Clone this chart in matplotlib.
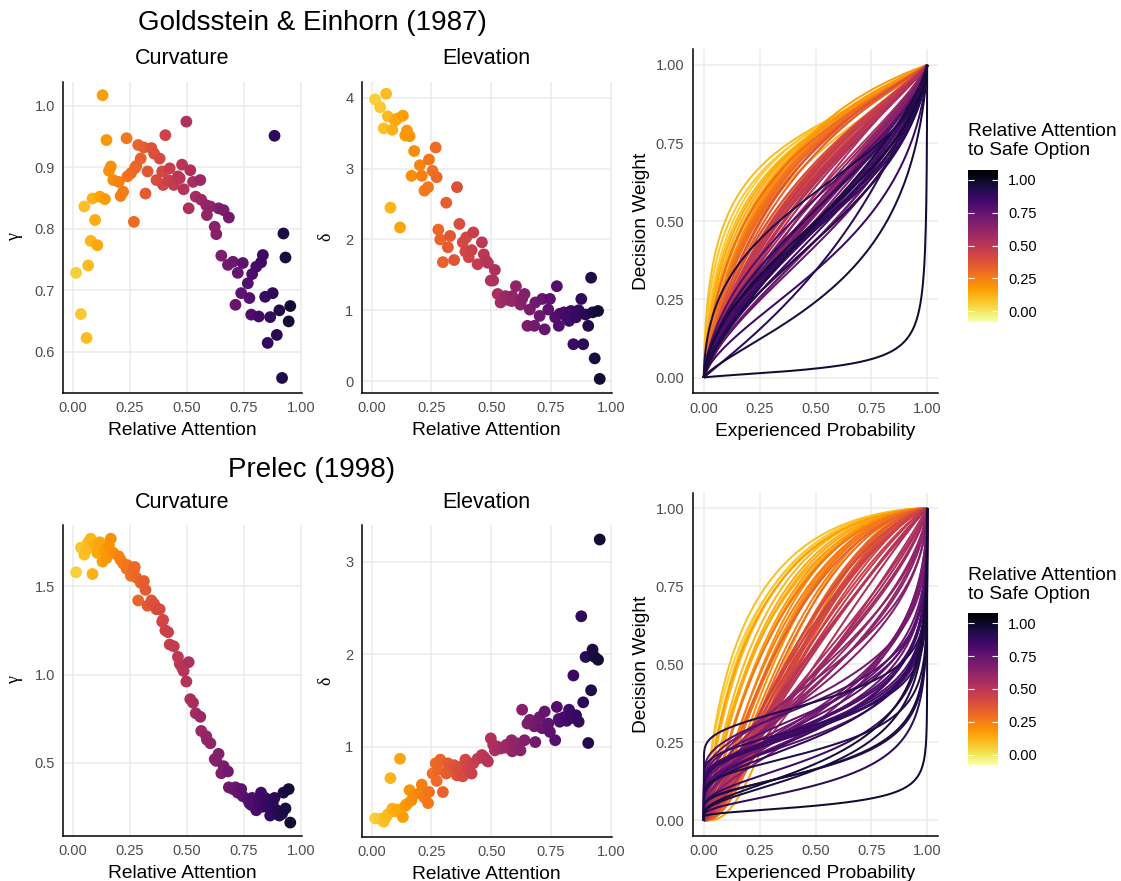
import numpy as np
import matplotlib
matplotlib.use("Agg")
import matplotlib.pyplot as plt
from matplotlib import colors, colorbar

plt.rcParams["font.family"] = ["Liberation Sans", "DejaVu Sans"]

# relative attention to the safe option (one value per participant)
attention = [0.015, 0.036, 0.051, 0.061, 0.068, 0.079, 0.087, 0.098, 0.108, 0.119,
             0.131, 0.141, 0.148, 0.159, 0.167, 0.178, 0.202, 0.210, 0.221, 0.236,
             0.240, 0.255, 0.268, 0.272, 0.279, 0.287, 0.298, 0.312, 0.319, 0.328,
             0.345, 0.357, 0.367, 0.381, 0.392, 0.396, 0.406, 0.418, 0.425, 0.443,
             0.461, 0.469, 0.479, 0.486, 0.498, 0.508, 0.515, 0.527, 0.539, 0.559,
             0.563, 0.585, 0.588, 0.603, 0.622, 0.629, 0.639, 0.651, 0.661, 0.680,
             0.684, 0.702, 0.713, 0.723, 0.738, 0.745, 0.767, 0.774, 0.782, 0.786,
             0.804, 0.815, 0.825, 0.833, 0.843, 0.854, 0.865, 0.876, 0.884, 0.894,
             0.905, 0.917, 0.923, 0.932, 0.946, 0.953]

# Goldstein & Einhorn (1987) parameters
ge_gamma = [0.728, 0.661, 0.836, 0.622, 0.740, 0.780, 0.849, 0.814, 0.773, 0.852,
            1.017, 0.848, 0.944, 0.894, 0.901, 0.879, 0.876, 0.853, 0.860, 0.947,
            0.885, 0.890, 0.811, 0.898, 0.902, 0.936, 0.914, 0.932, 0.857, 0.893,
            0.931, 0.922, 0.879, 0.914, 0.893, 0.871, 0.952, 0.879, 0.898, 0.871,
            0.885, 0.882, 0.904, 0.864, 0.974, 0.833, 0.895, 0.876, 0.852, 0.879,
            0.847, 0.838, 0.822, 0.836, 0.803, 0.791, 0.833, 0.756, 0.830, 0.741,
            0.818, 0.746, 0.676, 0.728, 0.695, 0.744, 0.711, 0.687, 0.660, 0.726,
            0.738, 0.657, 0.745, 0.757, 0.689, 0.614, 0.656, 0.695, 0.951, 0.627,
            0.667, 0.557, 0.792, 0.753, 0.649, 0.674]
ge_delta = [3.98, 3.87, 3.57, 4.06, 3.74, 2.45, 3.55, 3.68, 3.71, 2.17,
            3.75, 3.47, 3.54, 3.46, 2.90, 3.25, 3.05, 2.90, 2.69, 2.74,
            3.13, 2.97, 3.30, 2.88, 2.14, 2.00, 1.68, 2.52, 1.89, 2.05,
            1.71, 2.74, 2.22, 1.96, 1.83, 2.03, 1.75, 1.85, 2.10, 1.65,
            1.96, 1.79, 1.70, 1.67, 1.42, 1.42, 1.57, 1.23, 1.11, 1.20,
            1.15, 1.13, 1.20, 1.34, 1.08, 1.16, 1.23, 0.78, 1.01, 0.78,
            1.11, 0.92, 1.16, 0.73, 1.01, 1.16, 0.90, 1.34, 0.78, 0.95,
            0.97, 0.90, 0.85, 0.99, 0.52, 0.90, 1.00, 1.16, 0.52, 0.94,
            0.78, 1.46, 0.97, 0.32, 0.99, 0.03]

# Prelec (1998) parameters
pr_gamma = [1.58, 1.72, 1.68, 1.71, 1.75, 1.77, 1.57, 1.73, 1.69, 1.75,
            1.64, 1.70, 1.66, 1.73, 1.77, 1.69, 1.67, 1.65, 1.63, 1.60,
            1.62, 1.56, 1.59, 1.61, 1.55, 1.42, 1.52, 1.53, 1.48, 1.39,
            1.42, 1.40, 1.37, 1.37, 1.30, 1.31, 1.25, 1.24, 1.17, 1.16,
            1.10, 1.06, 1.04, 1.02, 0.96, 1.07, 0.86, 0.84, 0.78, 0.76,
            0.68, 0.65, 0.63, 0.61, 0.52, 0.51, 0.55, 0.44, 0.48, 0.45,
            0.36, 0.35, 0.36, 0.33, 0.35, 0.31, 0.29, 0.27, 0.26, 0.30,
            0.23, 0.29, 0.33, 0.25, 0.30, 0.25, 0.20, 0.27, 0.30, 0.23,
            0.20, 0.21, 0.33, 0.24, 0.35, 0.16]
pr_delta = [0.225, 0.22, 0.19, 0.24, 0.27, 0.66, 0.33, 0.30, 0.32, 0.87,
            0.24, 0.36, 0.38, 0.53, 0.42, 0.48, 0.50, 0.59, 0.45, 0.39,
            0.51, 0.71, 0.82, 0.63, 0.75, 0.86, 0.51, 0.71, 0.82, 0.77,
            0.80, 0.69, 0.78, 0.68, 0.86, 0.80, 0.75, 0.71, 0.82, 0.87,
            0.91, 0.89, 0.86, 0.84, 1.09, 1.02, 0.96, 1.00, 0.98, 0.99,
            1.02, 1.07, 0.95, 1.04, 0.96, 1.40, 1.07, 1.25, 1.29, 1.22,
            1.05, 1.32, 1.20, 1.38, 1.25, 1.16, 1.07, 1.43, 1.30, 1.27,
            1.32, 1.28, 1.40, 1.31, 1.77, 1.34, 1.27, 2.41, 1.48, 1.97,
            1.04, 1.61, 2.05, 1.97, 1.94, 3.24]

unit_ticks = [0, 0.25, 0.5, 0.75, 1.0]
unit_labels = ["0.00", "0.25", "0.50", "0.75", "1.00"]

W, H = 1121, 881
fig = plt.figure(figsize=(W / 100, H / 100), dpi=100)

cmap = plt.get_cmap("inferno_r")
norm = colors.Normalize(vmin=-0.12, vmax=1.06)        # points and curves
bar_norm = colors.Normalize(vmin=-0.08, vmax=1.076)   # legend bar


def px_axes(x0, y0, x1, y1):
    return fig.add_axes([x0 / W, 1 - y1 / H, (x1 - x0) / W, (y1 - y0) / H])


def px_text(x, y, s, **kw):
    fig.text(x / W, 1 - y / H, s, ha="center", va="center", **kw)


def style(ax):
    ax.grid(True, color="#EBEBEB", lw=1.1)
    ax.set_axisbelow(True)
    for s in ["top", "right"]:
        ax.spines[s].set_visible(False)
    for s in ["left", "bottom"]:
        ax.spines[s].set_linewidth(1.1)
    ax.tick_params(length=0, labelsize=10.5, labelcolor="#4D4D4D", pad=6)


def scatter_panel(box, y, ylim, yticks, ylabels, ysym):
    ax = px_axes(*box)
    style(ax)
    ax.scatter(attention, y, c=attention, cmap=cmap, norm=norm, s=72,
               linewidths=0, zorder=3)
    ax.set_xlim(-0.041, 1.003)
    ax.set_ylim(*ylim)
    ax.set_xticks(unit_ticks, unit_labels)
    ax.set_yticks(yticks, ylabels)
    ax.set_xlabel("Relative Attention", fontsize=13.8, labelpad=5)
    ax.set_ylabel(ysym, fontsize=13, family=["Liberation Serif", "DejaVu Serif"],
                  labelpad=8)
    return ax


def w_ge(p, g, d):
    return d * p ** g / (d * p ** g + (1 - p) ** g)


def w_pr(p, g, d):
    with np.errstate(divide="ignore", invalid="ignore"):
        return np.exp(-d * np.abs(np.log(p)) ** g)


p = np.unique(np.concatenate([np.linspace(0, 1, 401),
                              np.logspace(-9, -1, 80),
                              1 - np.logspace(-9, -1, 80)]))


def curve_panel(box, wfun, gam, dlt):
    ax = px_axes(*box)
    style(ax)
    for a, g, d in zip(attention, gam, dlt):
        ax.plot(p, wfun(p, g, d), color=cmap(norm(a)), lw=1.45, zorder=3,
                solid_capstyle="butt")
    ax.set_xlim(-0.05, 1.05)
    ax.set_ylim(-0.05, 1.05)
    ax.set_xticks(unit_ticks, unit_labels)
    ax.set_yticks(unit_ticks, unit_labels)
    ax.set_xlabel("Experienced Probability", fontsize=13.8, labelpad=5)
    ax.set_ylabel("Decision Weight", fontsize=13.8, labelpad=4)
    return ax


def legend_bar(box, title_y):
    cax = px_axes(*box)
    cb = colorbar.ColorbarBase(cax, cmap=cmap, norm=bar_norm)
    cb.outline.set_visible(False)
    cb.set_ticks(unit_ticks)
    cb.set_ticklabels(unit_labels)
    cax.tick_params(length=0, labelsize=10.5, pad=7)
    cax.hlines(unit_ticks, 0, 0.2, colors="white", lw=0.8)
    cax.hlines(unit_ticks, 0.8, 1.0, colors="white", lw=0.8)
    fig.text(968 / W, 1 - title_y / H, "Relative Attention\nto Safe Option",
             ha="left", va="center", fontsize=13.8, linespacing=1.2)


# Goldstein & Einhorn row
scatter_panel((63.3, 81.7, 301.7, 392.7), ge_gamma, (0.533, 1.039),
              [0.6, 0.7, 0.8, 0.9, 1.0], ["0.6", "0.7", "0.8", "0.9", "1.0"], "γ")
scatter_panel((361.7, 81.7, 611.7, 392.7), ge_delta, (-0.165, 4.23),
              [0, 1, 2, 3, 4], ["0", "1", "2", "3", "4"], "δ")
curve_panel((692.7, 49.3, 938.3, 393.3), w_ge, ge_gamma, ge_delta)
legend_bar((968.3, 170, 998.3, 321.7), 141)

px_text(312, 23, "Goldsstein & Einhorn (1987)", fontsize=20)
px_text(182.5, 58, "Curvature", fontsize=15.5)
px_text(486.7, 58, "Elevation", fontsize=15.5)

# Prelec row
scatter_panel((63.3, 525, 301.7, 836), pr_gamma, (0.084, 1.848),
              [0.5, 1.0, 1.5], ["0.5", "1.0", "1.5"], "γ")
scatter_panel((361.7, 525, 611.7, 836.7), pr_delta, (0.027, 3.397),
              [1, 2, 3], ["1", "2", "3"], "δ")
curve_panel((692.7, 492.7, 938.3, 836), w_pr, pr_gamma, pr_delta)
legend_bar((968.3, 613.3, 998.3, 765), 585)

px_text(312, 470, "Prelec (1998)", fontsize=20)
px_text(182.5, 503, "Curvature", fontsize=15.5)
px_text(486.7, 503, "Elevation", fontsize=15.5)

fig.savefig("out.png", dpi=100)
